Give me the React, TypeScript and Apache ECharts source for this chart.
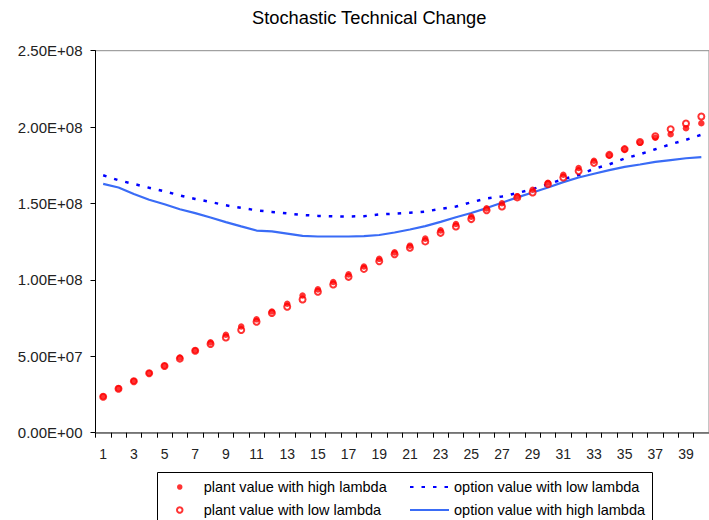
import React, { useEffect, useRef } from "react";
import * as echarts from "echarts";

const categories: string[] = Array.from({ length: 40 }, (_, i) => String(i + 1));

const plantHigh: number[] = [
  2.37, 2.9, 3.38, 3.9, 4.38, 4.92, 5.38, 5.91, 6.41, 6.95,
  7.42, 7.93, 8.44, 8.98, 9.38, 9.86, 10.36, 10.88, 11.38, 11.8,
  12.24, 12.7, 13.24, 13.66, 14.14, 14.68, 15.02, 15.48, 15.9, 16.36,
  16.88, 17.32, 17.8, 18.14, 18.54, 18.98, 19.3, 19.53, 19.93, 20.25,
].map((v) => v * 1e7);

const plantLow: number[] = [
  2.35, 2.88, 3.37, 3.89, 4.36, 4.85, 5.36, 5.8, 6.23, 6.72,
  7.26, 7.83, 8.24, 8.72, 9.22, 9.7, 10.2, 10.72, 11.22, 11.68,
  12.1, 12.52, 13.08, 13.5, 13.98, 14.56, 14.8, 15.4, 15.72, 16.28,
  16.7, 17.12, 17.66, 18.18, 18.56, 19.02, 19.4, 19.86, 20.23, 20.69,
].map((v) => v * 1e7);

const optionLow: number[] = [
  16.85, 16.52, 16.28, 16.03, 15.8, 15.53, 15.3, 15.1, 14.88, 14.72,
  14.55, 14.45, 14.35, 14.25, 14.19, 14.16, 14.15, 14.17, 14.28, 14.34,
  14.4, 14.47, 14.65, 14.8, 15.08, 15.33, 15.46, 15.68, 15.95, 16.25,
  16.6, 16.86, 17.27, 17.56, 17.95, 18.22, 18.55, 18.88, 19.17, 19.5,
].map((v) => v * 1e7);

const optionHigh: number[] = [
  16.28, 16.05, 15.62, 15.25, 14.95, 14.62, 14.37, 14.08, 13.78, 13.5,
  13.23, 13.17, 13.03, 12.88, 12.84, 12.84, 12.84, 12.86, 12.94, 13.1,
  13.3, 13.52, 13.8, 14.1, 14.38, 14.7, 15.05, 15.4, 15.72, 16.05,
  16.4, 16.7, 16.95, 17.18, 17.4, 17.55, 17.72, 17.84, 17.96, 18.04,
].map((v) => v * 1e7);

const FONT = "'Liberation Sans', Arial, sans-serif";

const fmtExp = (v: number): string => {
  const [m, e] = v.toExponential(2).split("e");
  const n = parseInt(e, 10);
  return m + "E" + (n < 0 ? "-" : "+") + String(Math.abs(n)).padStart(2, "0");
};

export default function App() {
  const ref = useRef<HTMLDivElement>(null);
  useEffect(() => {
    if (!ref.current) return;
    const chart = echarts.init(ref.current, undefined, { renderer: "svg" });
    chart.setOption({
      animation: false,
      backgroundColor: "#fff",
      textStyle: { fontFamily: FONT },
      title: {
        text: "Stochastic Technical Change",
        left: 247,
        top: 3,
        textStyle: { fontSize: 18.3, fontWeight: "normal", color: "#000", fontFamily: FONT },
      },
      grid: {
        left: 95.5,
        right: -11,
        top: 50.7,
        bottom: 87.3,
        show: true,
        borderColor: "#8c8c8c",
        borderWidth: 1,
        containLabel: false,
      },
      xAxis: {
        type: "category",
        data: categories,
        boundaryGap: true,
        axisLine: { lineStyle: { color: "#666", width: 1.5 } },
        axisTick: { show: true, interval: 0, length: 5, lineStyle: { color: "#000" } },
        axisLabel: { interval: 1, margin: 14, fontSize: 14, color: "#222", fontFamily: FONT },
        splitLine: { show: false },
      },
      yAxis: {
        type: "value",
        min: 0,
        max: 2.5e8,
        interval: 5e7,
        axisLine: { show: true, lineStyle: { color: "#000", width: 1 } },
        axisTick: { show: true, length: 5, lineStyle: { color: "#000" } },
        axisLabel: { formatter: fmtExp, margin: 13, fontSize: 15, color: "#222", fontFamily: FONT },
        splitLine: { show: false },
      },
      legend: [
        {
          orient: "vertical",
          left: 176,
          top: 479,
          padding: 0,
          itemWidth: 38,
          itemHeight: 5.5,
          itemGap: 7,
          data: ["plant value with high lambda", "plant value with low lambda"],
          textStyle: { fontSize: 14.5, color: "#000", lineHeight: 16, fontFamily: FONT },
        },
        {
          orient: "vertical",
          left: 409,
          top: 479,
          padding: 0,
          itemWidth: 39,
          itemHeight: 6,
          itemGap: 7,
          itemStyle: { color: "transparent", borderColor: "transparent", borderWidth: 0 },
          data: ["option value with low lambda", "option value with high lambda"],
          textStyle: { fontSize: 14.5, color: "#000", lineHeight: 16, fontFamily: FONT },
        },
      ],
      graphic: [
        {
          type: "rect",
          shape: { x: 157.5, y: 472.5, width: 495, height: 60 },
          style: { fill: "none", stroke: "#000", lineWidth: 1 },
          z: 0,
        },
      ],
      series: [
        {
          name: "option value with low lambda",
          type: "line",
          data: optionLow,
          symbol: "none",
          color: "#0000ff",
          lineStyle: { color: "#0000ff", width: 2.5, type: [3.5, 8] },
          z: 2,
        },
        {
          name: "option value with high lambda",
          type: "line",
          data: optionHigh,
          symbol: "none",
          color: "#3a6cf6",
          lineStyle: { color: "#3a6cf6", width: 2.2 },
          z: 2,
        },
        {
          name: "plant value with low lambda",
          type: "scatter",
          data: plantLow,
          symbol: "emptyCircle",
          symbolSize: 6,
          itemStyle: { color: "#ff0000", borderColor: "#ff0000", borderWidth: 1.3 },
          z: 3,
        },
        {
          name: "plant value with high lambda",
          type: "scatter",
          data: plantHigh,
          symbol: "circle",
          symbolSize: 6.5,
          itemStyle: { color: "#ff0000" },
          z: 4,
        },
      ],
    });
    return () => chart.dispose();
  }, []);
  return (
    <div
      ref={ref}
      style={{ position: "fixed", left: 0, top: 0, width: 709, height: 520 }}
    />
  );
}
